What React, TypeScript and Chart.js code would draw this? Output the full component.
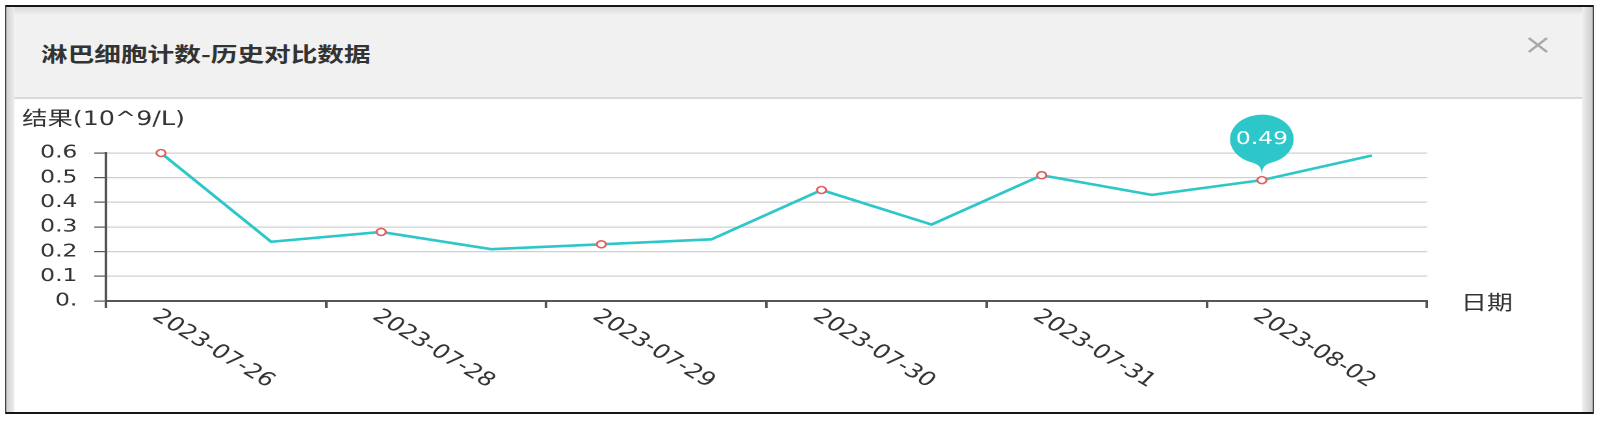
import React, { useEffect, useRef } from 'react';
import { Chart, registerables } from 'chart.js';

Chart.register(...registerables);

// ---- data ----
const categories = [
  '2023-07-26', '2023-07-27', '2023-07-28', '2023-07-28', '2023-07-29', '2023-07-29',
  '2023-07-30', '2023-07-30', '2023-07-31', '2023-08-01', '2023-08-02', '2023-08-02',
];
const values = [0.6, 0.24, 0.28, 0.21, 0.23, 0.25, 0.45, 0.31, 0.51, 0.43, 0.49, 0.59];
const yTickLabels = ['0.', '0.1', '0.2', '0.3', '0.4', '0.5', '0.6'];
const shownLabelIndices = [0, 2, 4, 6, 8, 10];
const pinIndex = 10;
const titleText = '淋巴细胞计数-历史对比数据';
const yAxisName = '结果(10^9/L)';
const xAxisName = '日期';

// ---- layout (the reference screenshot is stretched horizontally) ----
const S = 1.3;
const W = 1231;
const H = 424;
const u = (x: number) => x / S;

const LINE = '#2ec7c9';

const overlay = {
  id: 'overlay',
  afterDraw(chart: any) {
    const { ctx, chartArea, scales } = chart;
    const xs = scales.x;
    ctx.save();
    // rotated category labels
    ctx.font = '19.5px "DejaVu Sans"';
    ctx.fillStyle = '#333';
    ctx.textAlign = 'left';
    ctx.textBaseline = 'middle';
    shownLabelIndices.forEach((i) => {
      const px = xs.getPixelForValue(i);
      ctx.save();
      ctx.translate(px - 4.5, chartArea.bottom + 13);
      ctx.rotate((38 * Math.PI) / 180);
      ctx.fillText(categories[i], 0, 0);
      ctx.restore();
    });
    // axis names
    ctx.font = '19.5px "DejaVu Sans", "Noto Sans CJK SC"';
    ctx.fillText(yAxisName, chartArea.left - 64.5, chartArea.top - 33);
    ctx.font = '20px "Noto Sans CJK SC"';
    ctx.fillText(xAxisName, chartArea.right + 26, chartArea.bottom + 1);

    // pin mark point
    const pt = chart.getDatasetMeta(0).data[pinIndex];
    if (pt) {
      const x = pt.x;
      const y = pt.y - 4;
      const r = 24.5;
      const cy = pt.y - 41;
      const D = y - cy;
      const dy = (r * r) / D;
      const a = Math.asin(dy / r);
      const dx = Math.cos(a) * r;
      const tanX = Math.sin(a);
      const tanY = Math.cos(a);
      const cp = r * 0.6;
      const cp2 = r * 0.7;
      ctx.beginPath();
      ctx.moveTo(x - dx, cy + dy);
      ctx.arc(x, cy, r, Math.PI - a, Math.PI * 2 + a);
      ctx.bezierCurveTo(x + dx - tanX * cp, cy + dy + tanY * cp, x, y - cp2, x, y);
      ctx.bezierCurveTo(x, y - cp2, x - dx + tanX * cp, cy + dy + tanY * cp, x - dx, cy + dy);
      ctx.closePath();
      ctx.fillStyle = LINE;
      ctx.fill();
      ctx.fillStyle = '#fff';
      ctx.font = '18px "DejaVu Sans"';
      ctx.textAlign = 'center';
      ctx.textBaseline = 'middle';
      ctx.fillText(String(values[pinIndex]), x, cy);
    }
    ctx.restore();
  },
};

export default function App() {
  const ref = useRef<HTMLCanvasElement>(null);

  useEffect(() => {
    if (!ref.current) return;
    const chart = new Chart(ref.current, {
      type: 'line',
      data: {
        labels: categories,
        datasets: [
          {
            data: values,
            borderColor: LINE,
            borderWidth: 2.6,
            tension: 0,
            clip: false as any,
            pointRadius: values.map((_, i) => (i % 2 === 0 ? 3.5 : 0)),
            pointHoverRadius: 0,
            pointBorderColor: '#e06060',
            pointBackgroundColor: '#ffffff',
            pointBorderWidth: 1.6,
          },
        ],
      },
      options: {
        animation: false,
        responsive: false,
        devicePixelRatio: 2,
        events: [],
        layout: { padding: { left: 11.5, right: W - 1097.7, top: 153, bottom: H - 301 - 20 } },
        plugins: { legend: { display: false }, tooltip: { enabled: false } },
        scales: {
          x: {
            type: 'category',
            offset: true,
            afterFit: (s: any) => { s.height = 20; },
            ticks: { display: false },
            grid: {
              offset: true,
              drawOnChartArea: false,
              drawTicks: true,
              tickLength: 7,
              lineWidth: 2,
              tickColor: (c: any) => (c.index === undefined || c.index % 2 === 0 ? '#555' : 'rgba(0,0,0,0)'),
            },
            border: { color: '#555', width: 2 },
          },
          y: {
            min: 0,
            max: 0.6,
            afterFit: (s: any) => { s.width = 70; },
            ticks: {
              stepSize: 0.1,
              padding: 13,
              color: '#333',
              font: { family: '"DejaVu Sans"', size: 18 },
              callback: (_v: any, i: number) => yTickLabels[i],
            },
            grid: { color: '#d0d0d0', lineWidth: 1.2, tickLength: 9, tickColor: '#555', drawTicks: true },
            border: { color: '#555', width: 2 },
          },
        },
      },
      plugins: [overlay],
    });
    return () => chart.destroy();
  }, []);

  return (
    <div
      style={{
        position: 'absolute', left: 0, top: 0, width: W, height: H, background: '#fff',
        transform: `scaleX(${S})`, transformOrigin: '0 0', overflow: 'hidden',
      }}
    >
      <div
        style={{
          position: 'absolute', left: u(5), top: 5, width: u(1589), height: 409, boxSizing: 'border-box',
          borderStyle: 'solid', borderColor: '#151515', borderTopWidth: 2, borderBottomWidth: 2,
          borderLeftWidth: 1.6, borderRightWidth: 1.6, background: '#fff',
        }}
      >
        <div style={{ position: 'absolute', left: 0, top: 0, bottom: 0, width: u(8), background: 'linear-gradient(to right, #d2d2d2, #ececec)' }} />
        <div style={{ position: 'absolute', right: 0, top: 0, bottom: 0, width: u(11), background: 'linear-gradient(to right, #efefef, #cccccc)' }} />
        <div style={{ position: 'absolute', left: u(8), right: u(11), top: 0, height: 7, background: 'linear-gradient(to bottom, #dadada, #ececec)' }} />
        <div style={{ position: 'absolute', left: u(8), right: u(11), top: 7, height: 83, background: '#f1f1f1', borderBottom: '2px solid #dadada' }} />
      </div>
      <div
        style={{
          position: 'absolute', left: u(41), top: 41, fontFamily: '"Noto Sans CJK SC"', fontWeight: 700,
          fontSize: 20.5, lineHeight: '24px', color: '#333', whiteSpace: 'nowrap',
        }}
      >
        {titleText}
      </div>
      <svg style={{ position: 'absolute', left: u(1527), top: 37 }} width={16} height={16} viewBox="0 0 16 16">
        <line x1={1} y1={1} x2={15} y2={15} stroke="#a9a9a9" strokeWidth={2.2} />
        <line x1={15} y1={1} x2={1} y2={15} stroke="#a9a9a9" strokeWidth={2.2} />
      </svg>
      <canvas ref={ref} width={W} height={H} style={{ position: 'absolute', left: 0, top: 0, width: W, height: H }} />
    </div>
  );
}
